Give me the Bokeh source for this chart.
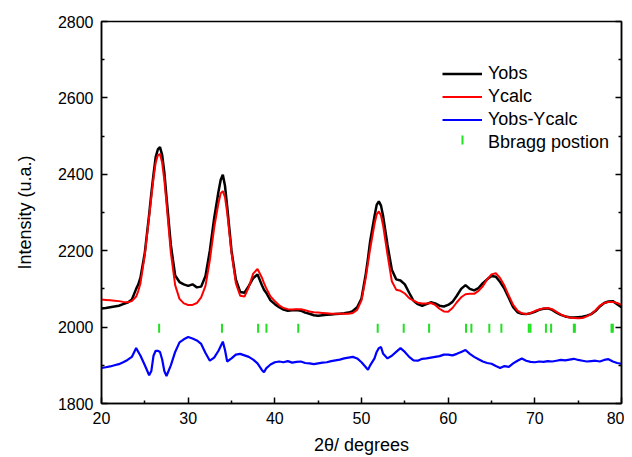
import math
from bokeh.plotting import figure
from bokeh.models import LinearAxis, Legend, LegendItem, FixedTicker, BoxAnnotation
from bokeh.embed import file_html
from bokeh.resources import INLINE

# ---- data ----
two_theta = [20.0, 20.5, 21.0, 21.5, 22.0, 22.5, 23.0, 23.5, 24.0, 24.25, 24.5, 25.0, 25.5, 25.75,
             26.0, 26.25, 26.5, 26.75, 27.0, 27.25, 27.5, 28.0, 28.5, 29.0, 29.5, 30.0, 30.5,
             31.0, 31.5, 32.0, 32.5, 33.0, 33.5, 33.75, 34.0, 34.25, 34.5, 35.0, 35.5, 36.0,
             36.5, 37.0, 37.5, 38.0, 38.5, 38.75, 39.0, 39.5, 40.0, 40.5, 41.0, 41.5, 42.0, 42.5,
             43.0, 43.5, 44.0, 44.5, 45.0, 45.5, 46.0, 46.5, 47.0, 47.5, 48.0, 48.5, 49.0,
             49.5, 50.0, 50.5, 50.75, 51.0, 51.5, 51.75, 52.0, 52.25, 52.5, 53.0, 53.5, 54.0,
             54.5, 55.0, 55.5, 56.0, 56.5, 57.0, 57.5, 58.0, 58.5, 59.0, 59.5, 60.0, 60.5,
             61.0, 61.5, 62.0, 62.5, 63.0, 63.5, 64.0, 64.5, 65.0, 65.5, 66.0, 66.5, 67.0,
             67.5, 68.0, 68.5, 69.0, 69.5, 70.0, 70.5, 71.0, 71.5, 72.0, 72.5, 73.0, 73.5,
             74.0, 74.5, 75.0, 75.5, 76.0, 76.5, 77.0, 77.5, 78.0, 78.5, 79.0, 79.5, 80.0]

y_obs = [2049, 2050, 2052, 2054, 2056, 2060, 2064, 2072, 2100, 2112, 2130, 2195, 2295, 2350,
         2400, 2445, 2465, 2471, 2450, 2405, 2340, 2215, 2135, 2118, 2112, 2108, 2112,
         2104, 2106, 2134, 2200, 2285, 2355, 2385, 2399, 2370, 2316, 2200, 2125, 2092,
         2090, 2108, 2128, 2138, 2110, 2098, 2090, 2070, 2060, 2052, 2046, 2043, 2044, 2045,
         2043, 2038, 2035, 2031, 2030, 2031, 2032, 2033, 2034, 2035, 2036, 2038, 2042,
         2052, 2075, 2140, 2180, 2225, 2290, 2320, 2329, 2318, 2290, 2215, 2150, 2125,
         2122, 2112, 2090, 2069, 2060, 2056, 2060, 2065, 2062, 2056, 2054, 2058, 2066,
         2082, 2100, 2110, 2100, 2096, 2102, 2115, 2125, 2134, 2132, 2118, 2100, 2076,
         2052, 2039, 2035, 2034, 2036, 2040, 2045, 2048, 2049, 2045, 2038, 2032, 2028,
         2026, 2025, 2026, 2027, 2030, 2034, 2042, 2054, 2063, 2067, 2068, 2060, 2052]

y_calc = [2072, 2071, 2070, 2069, 2068, 2066, 2065, 2068, 2080, 2095, 2115, 2190, 2290, 2340,
          2390, 2430, 2450, 2453, 2430, 2385, 2325, 2195, 2110, 2074, 2062, 2058, 2058,
          2063, 2078, 2108, 2175, 2260, 2325, 2350, 2356, 2340, 2300, 2195, 2115, 2082,
          2080, 2105, 2140, 2152, 2130, 2115, 2102, 2080, 2068, 2057, 2050, 2047, 2046, 2047,
          2047, 2044, 2041, 2039, 2038, 2037, 2036, 2035, 2035, 2035, 2035, 2035, 2037,
          2045, 2070, 2130, 2168, 2205, 2270, 2295, 2303, 2292, 2265, 2190, 2120, 2098,
          2095, 2088, 2076, 2069, 2064, 2062, 2062, 2063, 2058, 2048, 2041, 2040, 2050,
          2065, 2078, 2086, 2087, 2087, 2095, 2107, 2125, 2138, 2141, 2128, 2108, 2082,
          2058, 2043, 2036, 2034, 2037, 2042, 2046, 2049, 2050, 2047, 2040, 2033, 2028,
          2025, 2024, 2023, 2024, 2028, 2034, 2044, 2056, 2063, 2066, 2066, 2063, 2058]

y_diff = [1893, 1895, 1897, 1900, 1903, 1908, 1914, 1922, 1945, 1935, 1925, 1900, 1874, 1885,
          1925, 1938, 1938, 1935, 1915, 1885, 1872, 1900, 1935, 1960, 1968, 1974, 1970,
          1965, 1956, 1932, 1912, 1920, 1938, 1950, 1962, 1940, 1910, 1918, 1928, 1930,
          1926, 1922, 1915, 1905, 1888, 1882, 1892, 1902, 1908, 1910, 1908, 1911, 1907, 1909,
          1910, 1906, 1905, 1903, 1905, 1907, 1908, 1911, 1913, 1915, 1918, 1920, 1922,
          1918, 1908, 1895, 1888, 1900, 1918, 1935, 1945, 1948, 1930, 1918, 1925, 1935,
          1945, 1935, 1922, 1913, 1912, 1917, 1918, 1920, 1922, 1924, 1928, 1928, 1926,
          1930, 1935, 1940, 1930, 1922, 1916, 1910, 1906, 1904, 1898, 1893, 1898, 1896,
          1905, 1912, 1918, 1912, 1909, 1908, 1910, 1909, 1911, 1910, 1912, 1914, 1913,
          1915, 1917, 1914, 1912, 1910, 1911, 1912, 1910, 1914, 1916, 1910, 1906, 1904]

bragg_pos = [26.65, 33.9, 38.07, 39.03, 42.7, 51.87, 54.87, 57.8, 62.06, 62.68, 64.75, 66.14,
             69.3, 69.5, 71.28, 71.88, 74.5, 74.62, 78.85, 79.0]
bragg_level = 1997

x_ticks = [20, 30, 40, 50, 60, 70, 80]
x_minor = [25, 35, 45, 55, 65, 75]
y_ticks = [1800, 2000, 2200, 2400, 2600, 2800]
y_minor = [1900, 2100, 2300, 2500, 2700]

FONT = "Liberation Sans"
GREEN = "#22e022"

p = figure(width=624, height=457, x_range=(20, 80), y_range=(1800, 2800),
           output_backend="svg", toolbar_location=None,
           min_border_left=101, min_border_right=3, min_border_top=21, min_border_bottom=52)

p.grid.visible = False
p.outline_line_color = "black"
p.outline_line_width = 1.5
p.background_fill_color = "white"
p.border_fill_color = "white"

r_obs = p.line(two_theta, y_obs, line_color="black", line_width=2.5)
r_calc = p.line(two_theta, y_calc, line_color="#ff0000", line_width=2)
r_diff = p.line(two_theta, y_diff, line_color="#0000ff", line_width=2.2)
p.scatter(bragg_pos, [bragg_level] * len(bragg_pos), marker="dash", angle=math.pi / 2,
          size=9, line_color=GREEN, line_width=2, fill_color=GREEN)
# invisible stand-in so the legend entry's glyph can be drawn as a vertical tick
r_bragg_key = p.scatter([float("nan")], [float("nan")], marker="dash", size=1,
                        line_alpha=0, fill_alpha=0)

for ax in (p.xaxis[0], p.yaxis[0]):
    ax.axis_line_color = "black"
    ax.axis_line_width = 1.5
    ax.major_tick_in = 6
    ax.major_tick_out = 0
    ax.minor_tick_in = 3
    ax.minor_tick_out = 0
    ax.major_tick_line_width = 1.5
    ax.minor_tick_line_width = 1.5
    ax.major_label_text_font = FONT
    ax.major_label_text_font_size = "16px"
    ax.major_label_text_color = "black"
    ax.axis_label_text_font = FONT
    ax.axis_label_text_font_size = "18px"
    ax.axis_label_text_font_style = "normal"
    ax.axis_label_text_color = "black"

p.xaxis[0].ticker = FixedTicker(ticks=x_ticks, minor_ticks=x_minor)
p.yaxis[0].ticker = FixedTicker(ticks=y_ticks, minor_ticks=y_minor)
p.xaxis[0].axis_label = "2θ/ degrees"
p.yaxis[0].axis_label = "Intensity (u.a.)"
p.xaxis[0].major_label_standoff = 8
p.yaxis[0].major_label_standoff = 8
p.xaxis[0].axis_label_standoff = 8
p.yaxis[0].axis_label_standoff = 20

right = LinearAxis(ticker=FixedTicker(ticks=y_ticks, minor_ticks=y_minor))
right.major_label_overrides = {t: "" for t in y_ticks}
right.major_label_standoff = 0
right.major_tick_in = 6
right.major_tick_out = 0
right.minor_tick_in = 3
right.minor_tick_out = 0
right.axis_line_width = 1.5
right.major_tick_line_width = 1.5
right.minor_tick_line_width = 1.5
p.add_layout(right, "right")

legend = Legend(items=[
    LegendItem(label="Yobs", renderers=[r_obs]),
    LegendItem(label="Ycalc", renderers=[r_calc]),
    LegendItem(label="Yobs-Ycalc", renderers=[r_diff]),
    LegendItem(label="Bbragg postion", renderers=[r_bragg_key]),
], location=(341, 249))
legend.border_line_color = None
legend.background_fill_alpha = 0
legend.padding = 0
legend.margin = 0
legend.spacing = 0
legend.label_height = 23
legend.glyph_height = 23
legend.glyph_width = 40
legend.label_standoff = 6
legend.label_text_font = FONT
legend.label_text_font_size = "18px"
legend.label_text_color = "black"
p.add_layout(legend, "center")

# vertical green key mark of the legend's Bragg entry (screen units, frame-relative)
key = BoxAnnotation(left=360, right=362, bottom=259, top=268,
                    left_units="screen", right_units="screen",
                    top_units="screen", bottom_units="screen",
                    fill_color=GREEN, fill_alpha=1, line_alpha=0)
p.add_layout(key)

open("out.html", "w").write(file_html(p, INLINE))
